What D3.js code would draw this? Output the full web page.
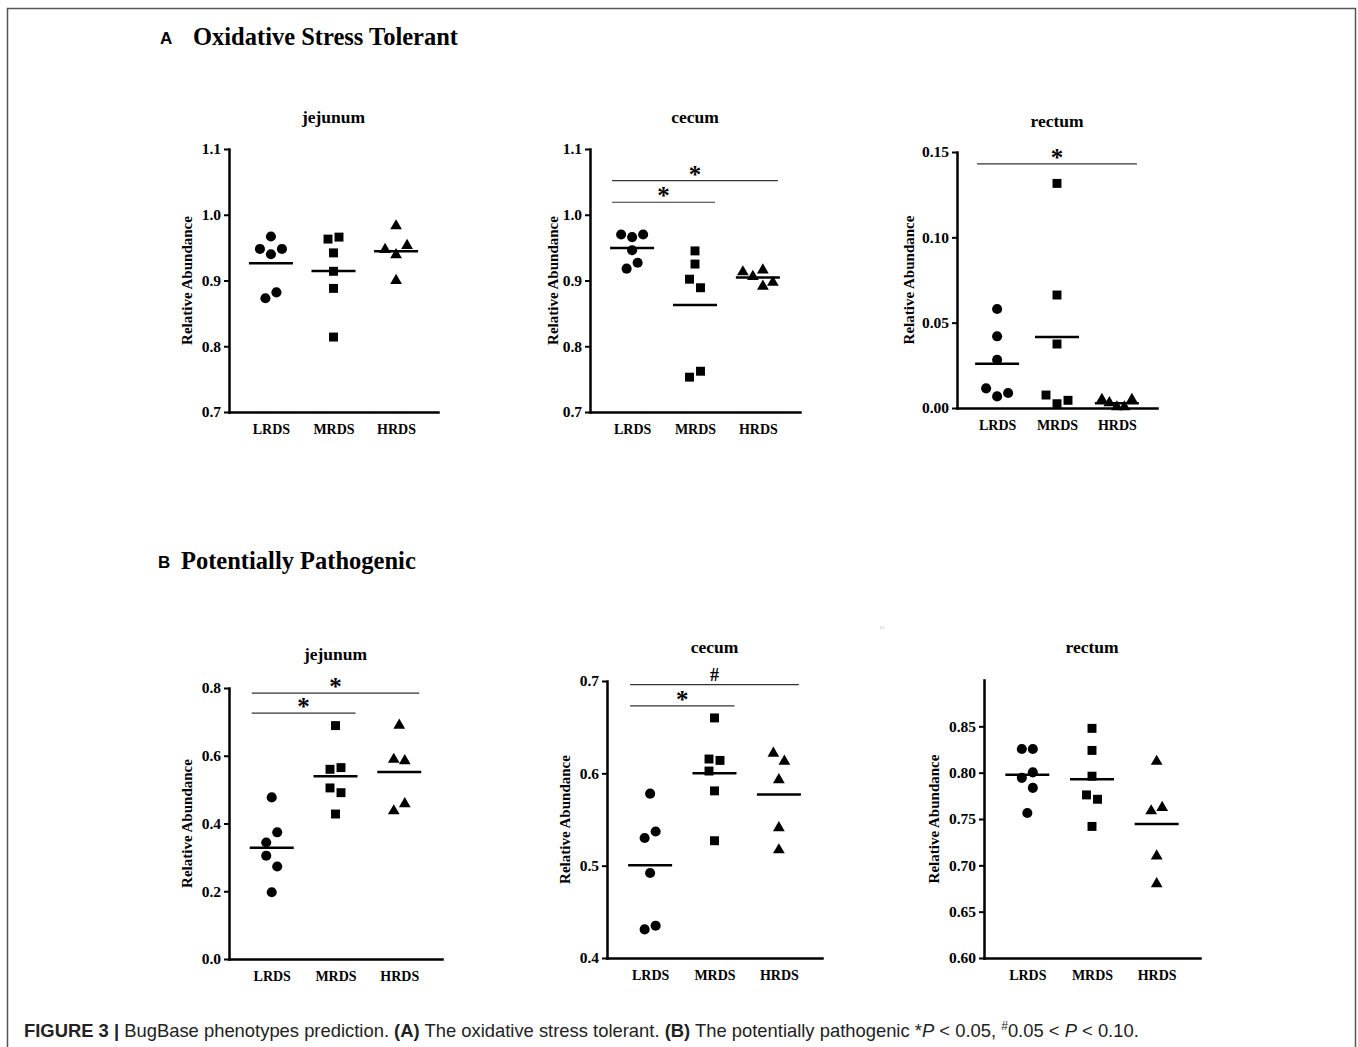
<!DOCTYPE html>
<html>
<head>
<meta charset="utf-8">
<script src="https://cdn.jsdelivr.net/npm/d3@7"></script>
<style>
body { margin: 0; background: #fff; }
</style>
</head>
<body>
<script>
var groups = ["LRDS", "MRDS", "HRDS"];

// A - oxidative stress tolerant (one list per group, LRDS / MRDS / HRDS)
var oxJejunum = [
  [0.967, 0.940, 0.948, 0.948, 0.882, 0.873],
  [0.966, 0.963, 0.942, 0.914, 0.888, 0.814],
  [0.983, 0.939, 0.947, 0.953, 0.900]
];
var oxCecum = [
  [0.966, 0.970, 0.970, 0.946, 0.927, 0.918],
  [0.945, 0.925, 0.889, 0.902, 0.762, 0.753],
  [0.891, 0.906, 0.897, 0.916, 0.913]
];
var oxRectum = [
  [0.058, 0.042, 0.0283, 0.0068, 0.0115, 0.0088],
  [0.1316, 0.0662, 0.0375, 0.0025, 0.0076, 0.0045],
  [0.0006, 0.003, 0.0006, 0.0049, 0.0049]
];

// B - potentially pathogenic
var pathJejunum = [
  [0.477, 0.374, 0.344, 0.273, 0.305, 0.197],
  [0.689, 0.565, 0.560, 0.491, 0.505, 0.428],
  [0.690, 0.585, 0.589, 0.458, 0.437]
];
var pathCecum = [
  [0.578, 0.537, 0.530, 0.492, 0.435, 0.431],
  [0.660, 0.614, 0.6155, 0.6025, 0.581, 0.527],
  [0.613, 0.6216, 0.593, 0.541, 0.517]
];
var pathRectum = [
  [0.8255, 0.8255, 0.8003, 0.7944, 0.7836, 0.7565],
  [0.8478, 0.824, 0.7962, 0.7713, 0.776, 0.742],
  [0.8121, 0.7623, 0.7587, 0.710, 0.680]
];

// axis ticks
var ticksOx = [0.7, 0.8, 0.9, 1.0, 1.1];
var ticksOxRectum = [0, 0.05, 0.10, 0.15];
var ticksPathJejunum = [0, 0.2, 0.4, 0.6, 0.8];
var ticksPathCecum = [0.4, 0.5, 0.6, 0.7];
var ticksPathRectum = [0.60, 0.65, 0.70, 0.75, 0.80, 0.85];

// significance brackets
var sigOxCecum = [{from: "LRDS", to: "HRDS", at: 1.052, mark: "*"}, {from: "LRDS", to: "MRDS", at: 1.019, mark: "*"}];
var sigOxRectum = [{from: "LRDS", to: "HRDS", at: 0.143, mark: "*"}];
var sigPathJejunum = [{from: "LRDS", to: "HRDS", at: 0.785, mark: "*"}, {from: "LRDS", to: "MRDS", at: 0.726, mark: "*"}];
var sigPathCecum = [{from: "LRDS", to: "HRDS", at: 0.696, mark: "#"}, {from: "LRDS", to: "MRDS", at: 0.673, mark: "*"}];

var serif = "'Liberation Serif', 'Times New Roman', serif";
var sans = "'Liberation Sans', Arial, sans-serif";

var svg = d3.select("body").append("svg")
  .attr("width", 1358)
  .attr("height", 1047);

svg.append("rect")
  .attr("x", 7.5).attr("y", 8.5)
  .attr("width", 1348).attr("height", 1100)
  .attr("fill", "none").attr("stroke", "#555").attr("stroke-width", 1.5);

// spread points that sit at nearly the same height, roughly like Prism does
function dodge(values, y) {
  var step = 5.5, dxMin = 10.5, dyMin = 11.2, rowGap = 11.7, maxSpread = 30;
  var idx = values.map(function(v, i) { return i; })
    .sort(function(a, b) { return values[b] - values[a]; });
  var rows = [], cur = [idx[0]];
  for (var k = 1; k < idx.length; k++) {
    if (Math.abs(y(values[idx[k]]) - y(values[idx[k - 1]])) < rowGap) cur.push(idx[k]);
    else { rows.push(cur); cur = [idx[k]]; }
  }
  rows.push(cur);

  var off = values.map(function() { return 0; });
  rows.forEach(function(row) {
    row = row.slice().sort(function(a, b) { return a - b; });
    var placed = [];
    row.forEach(function(i) {
      var yi = y(values[i]);
      for (var n = 0; n < 40; n++) {
        var c = n === 0 ? 0 : (n % 2 ? -1 : 1) * Math.ceil(n / 2) * step;
        var hit = placed.some(function(q) {
          return Math.abs(q.dx - c) < dxMin && Math.abs(q.y - yi) < dyMin;
        });
        if (!hit) { placed.push({i: i, dx: c, y: yi}); break; }
      }
    });
    var lo = d3.min(placed, function(q) { return q.dx; });
    var hi = d3.max(placed, function(q) { return q.dx; });
    var mid = (lo + hi) / 2;
    var f = (hi - lo) > maxSpread ? maxSpread / (hi - lo) : 1;
    placed.forEach(function(q) { off[q.i] = (q.dx - mid) * f; });
  });
  return off;
}

var symbols = [d3.symbolCircle, d3.symbolSquare, d3.symbolTriangle];
var symbolSizes = [80, 80, 60];

function drawPanel(p) {
  var g = svg.append("g");

  var x = d3.scalePoint().domain(groups).range([p.x0, p.x1]).padding(0.67);
  var y = d3.scaleLinear().domain(p.domain).range([p.yBot, p.yTop]);

  // title
  g.append("text")
    .attr("x", x("MRDS")).attr("y", p.titleY + 5)
    .attr("text-anchor", "middle")
    .attr("font-family", serif).attr("font-weight", "bold").attr("font-size", 17.5)
    .text(p.title);

  // y axis
  var ya = g.append("g")
    .attr("transform", "translate(" + p.x0 + ",0)")
    .call(d3.axisLeft(y).tickValues(p.ticks).tickFormat(d3.format(p.fmt))
      .tickSize(5).tickSizeOuter(0).tickPadding(3));
  ya.select(".domain").attr("stroke", "#000").attr("stroke-width", 2.5).attr("stroke-linecap", "square");
  ya.selectAll(".tick line").attr("stroke", "#000").attr("stroke-width", 2);
  ya.selectAll(".tick text")
    .attr("font-family", serif).attr("font-weight", "bold").attr("font-size", 15.5).attr("fill", "#000");

  // x axis
  var xa = g.append("g")
    .attr("transform", "translate(0," + p.yBot + ")")
    .call(d3.axisBottom(x).tickSize(0).tickSizeOuter(0).tickPadding(12.5));
  xa.select(".domain").attr("stroke", "#000").attr("stroke-width", 2.5).attr("stroke-linecap", "square");
  xa.selectAll(".tick text")
    .attr("font-family", serif).attr("font-weight", "bold").attr("font-size", 14).attr("fill", "#000");

  // y label
  g.append("text")
    .attr("transform", "translate(" + p.labelX + "," + ((p.yTop + p.yBot) / 2) + ") rotate(-90)")
    .attr("text-anchor", "middle").attr("dy", "0.35em")
    .attr("font-family", serif).attr("font-weight", "bold").attr("font-size", 15)
    .text("Relative Abundance");

  // points and means
  p.data.forEach(function(vals, gi) {
    var cx = x(groups[gi]);
    var off = dodge(vals, y);
    g.selectAll(".pt" + gi)
      .data(vals)
      .enter().append("path")
      .attr("d", d3.symbol().type(symbols[gi]).size(symbolSizes[gi]))
      .attr("transform", function(d, i) { return "translate(" + (cx + off[i]) + "," + y(d) + ")"; })
      .attr("fill", "#000");

    var m = d3.mean(vals);
    g.append("line")
      .attr("x1", cx - 22).attr("x2", cx + 22)
      .attr("y1", y(m)).attr("y2", y(m))
      .attr("stroke", "#000").attr("stroke-width", 2.5);
  });

  // significance
  (p.sig || []).forEach(function(s) {
    var a = x(s.from) - 20, b = x(s.to) + 20, yy = y(s.at);
    g.append("line")
      .attr("x1", a).attr("x2", b).attr("y1", yy).attr("y2", yy)
      .attr("stroke", "#333").attr("stroke-width", 1.2);
    g.append("text")
      .attr("x", (a + b) / 2).attr("y", yy + (s.mark === "*" ? 2 : -4))
      .attr("text-anchor", "middle")
      .attr("font-family", serif).attr("font-weight", "bold").attr("font-size", s.mark === "*" ? 25 : 18)
      .text(s.mark);
  });
}

var panels = [
  {data: oxJejunum, title: "jejunum", domain: [0.7, 1.1], ticks: ticksOx, fmt: ".1f",
   x0: 229, x1: 438, yTop: 149, yBot: 412, titleY: 118, labelX: 187},
  {data: oxCecum, title: "cecum", domain: [0.7, 1.1], ticks: ticksOx, fmt: ".1f", sig: sigOxCecum,
   x0: 590, x1: 800, yTop: 149, yBot: 412, titleY: 118, labelX: 553},
  {data: oxRectum, title: "rectum", domain: [0, 0.15], ticks: ticksOxRectum, fmt: ".2f", sig: sigOxRectum,
   x0: 957, x1: 1157, yTop: 152, yBot: 408, titleY: 122, labelX: 909},
  {data: pathJejunum, title: "jejunum", domain: [0, 0.8], ticks: ticksPathJejunum, fmt: ".1f", sig: sigPathJejunum,
   x0: 229, x1: 442, yTop: 688, yBot: 959, titleY: 655, labelX: 187},
  {data: pathCecum, title: "cecum", domain: [0.4, 0.7], ticks: ticksPathCecum, fmt: ".1f", sig: sigPathCecum,
   x0: 607, x1: 822, yTop: 681, yBot: 958, titleY: 648, labelX: 565},
  {data: pathRectum, title: "rectum", domain: [0.6, 0.9], ticks: ticksPathRectum, fmt: ".2f",
   x0: 984, x1: 1200, yTop: 680, yBot: 958, titleY: 648, labelX: 934}
];
panels.forEach(drawPanel);

// section headers
var heads = [
  {letter: "A", text: "Oxidative Stress Tolerant", lx: 160, tx: 193, y: 45},
  {letter: "B", text: "Potentially Pathogenic", lx: 158, tx: 181, y: 569}
];
heads.forEach(function(h) {
  svg.append("text").attr("x", h.lx).attr("y", h.y - 1)
    .attr("font-family", sans).attr("font-weight", "bold").attr("font-size", 17)
    .text(h.letter);
  svg.append("text").attr("x", h.tx).attr("y", h.y)
    .attr("font-family", serif).attr("font-weight", "bold").attr("font-size", 24.5)
    .text(h.text);
});

// stray page number left in the figure
svg.append("text").attr("x", 882).attr("y", 629)
  .attr("text-anchor", "middle").attr("font-family", serif).attr("font-size", 5).attr("fill", "#aaa")
  .text("15");

// caption
var cap = svg.append("text").attr("x", 24).attr("y", 1037)
  .attr("font-family", sans).attr("font-size", 18.4).attr("fill", "#222");
cap.append("tspan").attr("font-weight", "bold").text("FIGURE 3 |");
cap.append("tspan").text(" BugBase phenotypes prediction. ");
cap.append("tspan").attr("font-weight", "bold").text("(A)");
cap.append("tspan").text(" The oxidative stress tolerant. ");
cap.append("tspan").attr("font-weight", "bold").text("(B)");
cap.append("tspan").text(" The potentially pathogenic *");
cap.append("tspan").attr("font-style", "italic").text("P");
cap.append("tspan").text(" < 0.05, ");
cap.append("tspan").attr("font-size", 12).attr("dy", -7).text("#");
cap.append("tspan").attr("dy", 7).text("0.05 < ");
cap.append("tspan").attr("font-style", "italic").text("P");
cap.append("tspan").text(" < 0.10.");
</script>
</body>
</html>
